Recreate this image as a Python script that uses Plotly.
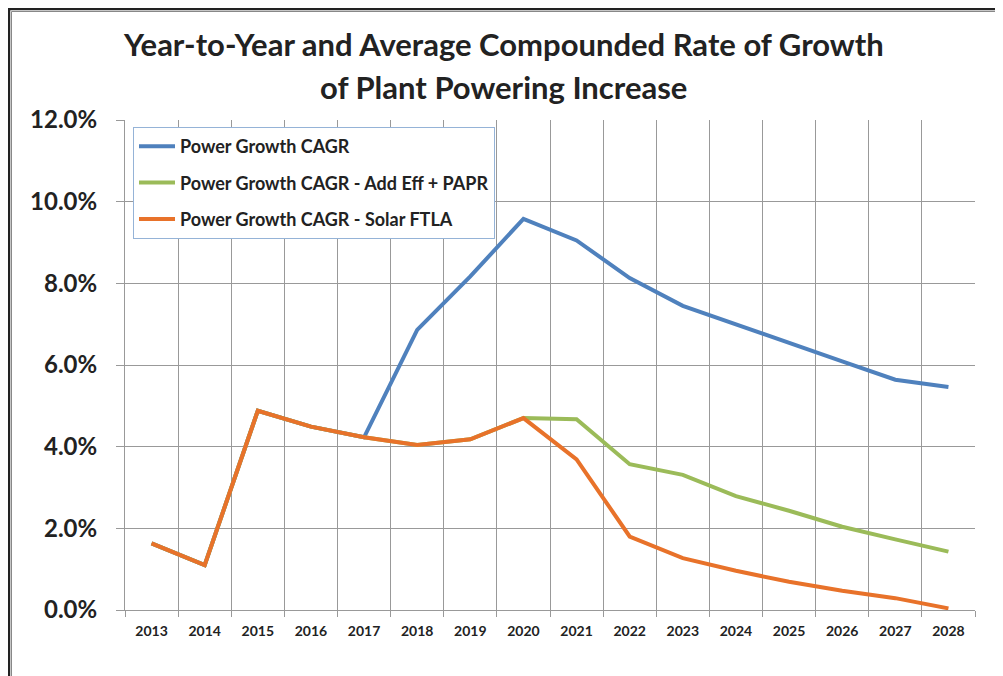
import plotly.graph_objects as go

years = [str(y) for y in range(2013, 2029)]
power_cagr = [1.63, 1.10, 4.88, 4.49, 4.23, 6.86, 8.17, 9.58, 9.05, 8.13, 7.45, 6.99, 6.55, 6.09, 5.64, 5.46]
add_eff_papr = [1.63, 1.10, 4.88, 4.49, 4.23, 4.04, 4.18, 4.70, 4.67, 3.57, 3.31, 2.79, 2.43, 2.04, 1.73, 1.43]
solar_ftla = [1.63, 1.10, 4.88, 4.49, 4.23, 4.04, 4.18, 4.70, 3.69, 1.80, 1.27, 0.96, 0.69, 0.47, 0.29, 0.04]
y_ticks = [0, 2, 4, 6, 8, 10, 12]
y_tick_labels = ["0.0%", "2.0%", "4.0%", "6.0%", "8.0%", "10.0%", "12.0%"]
title_lines = ["Year-to-Year and Average Compounded Rate of Growth", "of Plant Powering Increase"]

names = ["Power Growth CAGR", "Power Growth CAGR - Add Eff + PAPR", "Power Growth CAGR - Solar FTLA"]
colors = ["#4F81BD", "#9BBB59", "#E8722A"]
series = [power_cagr, add_eff_papr, solar_ftla]

FONT = "Lato, 'Open Sans', sans-serif"
fig = go.Figure()
for i, (n, c, s) in enumerate(zip(names, colors, series)):
    fig.add_trace(go.Scatter(x=years, y=s, name=f"<b>{n}</b>", mode="lines",
                             line=dict(color=c, width=4), legendgroup=f"g{i}"))

# the page body adds an 8px offset; work in figure pixels
OFF = 8
L, R, T, B = 125 - OFF, 28, 120 - OFF, 66
W, H = 1003 - OFF, 676 - OFF
pw, ph = W - L - R, H - T - B

def px(x):
    return (x - OFF - L) / pw

def py(y):
    return (H - B - (y - OFF)) / ph

shapes = [
    dict(type="line", xref="paper", yref="paper", x0=px(8), x1=px(1010), y0=py(9), y1=py(9),
         line=dict(color="#222222", width=2.5)),
    dict(type="line", xref="paper", yref="paper", x0=px(9), x1=px(9), y0=py(8), y1=py(690),
         line=dict(color="#222222", width=2.5)),
    dict(type="line", xref="paper", yref="paper", x0=px(11.5), x1=px(1010), y0=py(11.5), y1=py(11.5),
         line=dict(color="#888888", width=1)),
    dict(type="line", xref="paper", yref="paper", x0=px(11.5), x1=px(11.5), y0=py(11.5), y1=py(690),
         line=dict(color="#888888", width=1)),
]

annotations = [
    dict(text=f"<b>{title_lines[0]}</b>", xref="paper", yref="paper", x=px(503), y=py(44),
         xanchor="center", yanchor="middle", showarrow=False,
         font=dict(size=31, family=FONT, color="#222222")),
    dict(text=f"<b>{title_lines[1]}</b>", xref="paper", yref="paper", x=px(503), y=py(87),
         xanchor="center", yanchor="middle", showarrow=False,
         font=dict(size=31, family=FONT, color="#222222")),
]

fig.update_layout(
    width=W, height=H,
    margin=dict(l=L, r=R, t=T, b=B),
    paper_bgcolor="white", plot_bgcolor="white",
    font=dict(family=FONT, color="#222222"),
    showlegend=True,
    legend=dict(x=px(133), y=py(127), xanchor="left", yanchor="top",
                bgcolor="white", bordercolor="#95B3D7", borderwidth=1,
                font=dict(size=18, family=FONT, color="#222222"),
                tracegroupgap=10, itemwidth=36),
    shapes=shapes,
    annotations=annotations,
    xaxis=dict(type="category", range=[-0.5, 15.5], tickson="boundaries",
               showgrid=True, gridcolor="#999999", gridwidth=1,
               showline=True, linecolor="#999999", linewidth=1,
               ticks="outside", ticklen=6, tickcolor="#999999",
               ticklabelstandoff=8,
               tickfont=dict(size=14, family=FONT, color="#222222"),
               tickprefix="<b>", ticksuffix="</b>", fixedrange=True),
    yaxis=dict(range=[0, 12], tickvals=y_ticks, ticktext=[f"<b>{t}</b>" for t in y_tick_labels],
               showgrid=True, gridcolor="#999999", gridwidth=1,
               showline=True, linecolor="#999999", linewidth=1,
               ticks="outside", ticklen=8, tickcolor="#999999",
               ticklabelstandoff=14,
               tickfont=dict(size=24, family=FONT, color="#222222"), zeroline=False, fixedrange=True),
)

fig.write_html("out.html")
